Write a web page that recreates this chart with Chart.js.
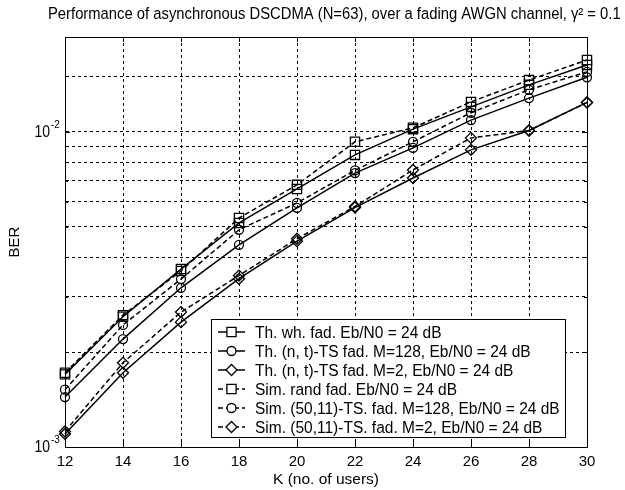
<!DOCTYPE html>
<html>
<head>
<meta charset="utf-8">
<script src="https://cdn.jsdelivr.net/npm/chart.js@4"></script>
<style>
  html, body { margin: 0; padding: 0; background: #fff; }
  #wrap { width: 625px; height: 490px; }
</style>
</head>
<body>
<div id="wrap"><canvas id="chart" width="625" height="490"></canvas></div>
<script>
const kUsers = [12, 14, 16, 18, 20, 22, 24, 26, 28, 30];
const thWhite = [1.70e-3, 2.59e-3, 3.67e-3, 5.14e-3, 6.59e-3, 8.45e-3, 1.02e-2, 1.20e-2, 1.41e-2, 1.63e-2];
const thTs128 = [1.44e-3, 2.20e-3, 3.20e-3, 4.38e-3, 5.74e-3, 7.40e-3, 8.90e-3, 1.09e-2, 1.28e-2, 1.49e-2];
const thTs2 = [1.10e-3, 1.72e-3, 2.49e-3, 3.42e-3, 4.50e-3, 5.75e-3, 7.14e-3, 8.77e-3, 1.01e-2, 1.24e-2];
const simRand = [1.72e-3, 2.62e-3, 3.62e-3, 5.33e-3, 6.79e-3, 9.30e-3, 1.03e-2, 1.245e-2, 1.46e-2, 1.69e-2];
const simTs128 = [1.52e-3, 2.44e-3, 3.41e-3, 4.89e-3, 5.95e-3, 7.55e-3, 9.30e-3, 1.15e-2, 1.36e-2, 1.55e-2];
const simTs2 = [1.12e-3, 1.85e-3, 2.68e-3, 3.50e-3, 4.58e-3, 5.80e-3, 7.57e-3, 9.57e-3, 1.01e-2, 1.24e-2];

const seriesLabels = [
    'Th. wh. fad. Eb/N0 = 24 dB',
    'Th. (n, t)-TS fad. M=128, Eb/N0 = 24 dB',
    'Th. (n, t)-TS fad. M=2, Eb/N0 = 24 dB',
    'Sim. rand fad. Eb/N0 = 24 dB',
    'Sim. (50,11)-TS. fad. M=128, Eb/N0 = 24 dB',
    'Sim. (50,11)-TS. fad. M=2, Eb/N0 = 24 dB'
];
const titleText = 'Performance of asynchronous DSCDMA (N=63), over a fading AWGN channel, \u03b3\u00b2 = 0.1';
const yDecades = [1e-3, 1e-2];

const FONT = '"Liberation Sans", Arial, Helvetica, sans-serif';
const STRETCH = 1.12;   // the original lettering is a bit taller than it is wide

function tallText(ctx, text, x, y) {
    ctx.save();
    ctx.translate(x, y);
    ctx.scale(1, STRETCH);
    ctx.fillText(text, 0, 0);
    ctx.restore();
}

function makeSet(label, values, style, dashed) {
    const radius = style === 'rect' ? 6.5 : (style === 'rectRot' ? 5.5 : 4.5);
    return {
        label: label,
        data: kUsers.map((k, i) => ({x: k, y: values[i]})),
        borderColor: '#000',
        borderWidth: 1.5,
        borderDash: dashed ? [5, 3] : [],
        pointStyle: style,
        pointRadius: radius,
        pointHoverRadius: radius,
        pointBorderColor: '#000',
        pointBackgroundColor: 'rgba(0,0,0,0)',
        pointBorderWidth: 1.3,
        tension: 0,
        clip: false
    };
}

// title, box, inner ticks, decade labels with superscripts and the legend
const matlabLook = {
    id: 'matlabLook',
    beforeDatasetsDraw(chart) {
        const {ctx, chartArea: a} = chart;
        const xs = chart.scales.x, ys = chart.scales.y;
        ctx.save();
        ctx.fillStyle = '#000';
        ctx.font = '14px ' + FONT;
        const size = 14 * 573 / ctx.measureText(titleText).width;
        ctx.font = size.toFixed(2) + 'px ' + FONT;
        ctx.textAlign = 'left';
        ctx.textBaseline = 'middle';
        tallText(ctx, titleText, 48, 14);

        ctx.strokeStyle = '#000';
        ctx.lineWidth = 1;
        ctx.setLineDash([]);
        ctx.strokeRect(Math.round(a.left) + 0.5, Math.round(a.top) + 0.5,
            Math.round(a.right - a.left), Math.round(a.bottom - a.top));
        ctx.beginPath();
        xs.ticks.forEach(t => {
            const px = Math.round(xs.getPixelForValue(t.value)) + 0.5;
            ctx.moveTo(px, a.bottom); ctx.lineTo(px, a.bottom - 5);
            ctx.moveTo(px, a.top); ctx.lineTo(px, a.top + 5);
        });
        ys.ticks.forEach(t => {
            const py = Math.round(ys.getPixelForValue(t.value)) + 0.5;
            const len = yDecades.includes(t.value) ? 5 : 3;
            ctx.moveTo(a.left, py); ctx.lineTo(a.left + len, py);
            ctx.moveTo(a.right, py); ctx.lineTo(a.right - len, py);
        });
        ctx.stroke();

        // decade labels 10^-3, 10^-2
        yDecades.forEach(v => {
            const py = ys.getPixelForValue(v);
            const exp = String(Math.round(Math.log10(v)));
            ctx.font = '14px ' + FONT;
            ctx.textAlign = 'right';
            tallText(ctx, '10', 50, py + 1);
            ctx.font = '10px ' + FONT;
            ctx.textAlign = 'left';
            tallText(ctx, exp, 51, py - 7);
        });
        ctx.restore();
    },
    afterDraw(chart) {
        const ctx = chart.ctx;
        const bx = 211, by = 319, bw = 354, bh = 118;
        ctx.save();
        ctx.fillStyle = '#fff';
        ctx.fillRect(bx, by, bw, bh);
        ctx.strokeStyle = '#000';
        ctx.lineWidth = 1;
        ctx.strokeRect(bx + 0.5, by + 0.5, bw, bh);
        chart.data.datasets.forEach((ds, i) => {
            const y = 332 + i * 19;
            ctx.strokeStyle = '#000';
            ctx.lineWidth = 1.5;
            ctx.setLineDash(ds.borderDash);
            ctx.beginPath();
            ctx.moveTo(218, y); ctx.lineTo(245, y);
            ctx.stroke();
            ctx.setLineDash([]);
            ctx.fillStyle = '#fff';
            ctx.lineWidth = ds.pointBorderWidth;
            Chart.helpers.drawPoint(ctx, {
                pointStyle: ds.pointStyle,
                radius: ds.pointRadius,
                borderWidth: ds.pointBorderWidth
            }, 231.5, y);
            ctx.fillStyle = '#000';
            ctx.font = '15.5px ' + FONT;
            ctx.textAlign = 'left';
            ctx.textBaseline = 'middle';
            tallText(ctx, ds.label, 255, y + 1);
        });
        ctx.restore();
    }
};

new Chart(document.getElementById('chart').getContext('2d'), {
    type: 'line',
    data: {
        datasets: [
            makeSet(seriesLabels[0], thWhite, 'rect', false),
            makeSet(seriesLabels[1], thTs128, 'circle', false),
            makeSet(seriesLabels[2], thTs2, 'rectRot', false),
            makeSet(seriesLabels[3], simRand, 'rect', true),
            makeSet(seriesLabels[4], simTs128, 'circle', true),
            makeSet(seriesLabels[5], simTs2, 'rectRot', true)
        ]
    },
    options: {
        responsive: false,
        animation: false,
        events: [],
        layout: {padding: {left: 0, right: 38, top: 37, bottom: 0}},
        plugins: {
            legend: {display: false},
            tooltip: {enabled: false},
            title: {display: false}
        },
        scales: {
            x: {
                type: 'linear',
                min: 12,
                max: 30,
                afterFit: s => { s.height = 43; },
                ticks: {stepSize: 2, color: '#000', padding: 6, font: {family: FONT, size: 15}},
                grid: {color: '#000', lineWidth: 1, drawTicks: false},
                border: {color: '#000', dash: [3, 3]},
                title: {display: true, text: 'K (no. of users)', color: '#000',
                    font: {family: FONT, size: 15.5}, padding: {top: 0, bottom: 1}}
            },
            y: {
                type: 'logarithmic',
                min: 1e-3,
                max: 2e-2,
                afterFit: s => { s.width = 65; },
                ticks: {display: false},
                grid: {color: '#000', lineWidth: 1, drawTicks: false},
                border: {color: '#000', dash: [3, 3]},
                title: {display: true, text: 'BER', color: '#000',
                    font: {family: FONT, size: 15}, padding: {top: 6, bottom: 0}}
            }
        }
    },
    plugins: [matlabLook]
});
</script>
</body>
</html>
